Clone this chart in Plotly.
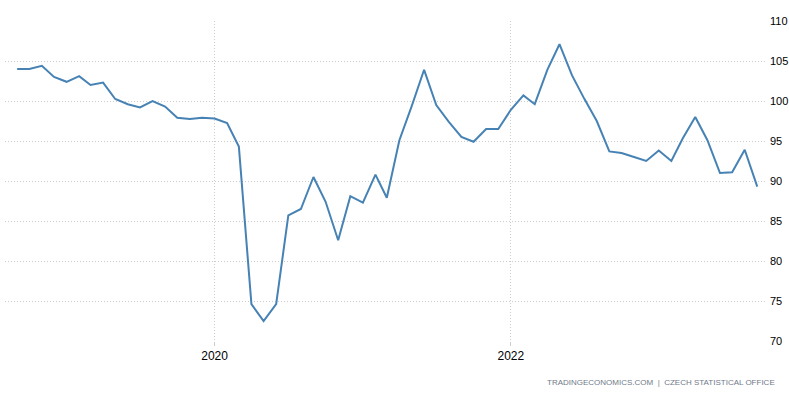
import plotly.graph_objects as go
import pandas as pd

dates = pd.date_range("2018-09-01", "2023-09-01", freq="MS")
values = [
    104.0, 104.0, 104.4, 103.0,
    102.4, 103.1, 102.0, 102.3, 100.25, 99.6, 99.2, 100.0, 99.3, 97.9, 97.75, 97.9,
    97.8, 97.25, 94.3, 74.6, 72.5, 74.6, 85.7, 86.5, 90.5, 87.4, 82.6, 88.1,
    87.3, 90.8, 87.9, 95.1, 99.3, 103.9, 99.5, 97.4, 95.5, 94.9, 96.5, 96.5,
    98.9, 100.7, 99.6, 103.9, 107.1, 103.2, 100.3, 97.5, 93.7, 93.5, 93.0, 92.5,
    93.8, 92.5, 95.3, 98.0, 95.1, 91.0, 91.1, 93.9, 89.3,
]
y_ticks = [70, 75, 80, 85, 90, 95, 100, 105, 110]
x_ticks = ["2020-01-01", "2022-01-01"]
x_tick_labels = ["2020", "2022"]
source_text = "TRADINGECONOMICS.COM  |  CZECH STATISTICAL OFFICE"

fig = go.Figure()
fig.add_trace(go.Scatter(
    x=dates, y=values, mode="lines",
    line=dict(color="#4682b4", width=2),
    hoverinfo="skip",
))

fig.update_layout(
    width=789, height=396,
    margin=dict(l=5, r=22, t=21, b=55, autoexpand=False),
    paper_bgcolor="white", plot_bgcolor="white",
    showlegend=False,
    font=dict(family="Liberation Sans, Arial, sans-serif", size=11, color="#000"),
    xaxis=dict(
        type="date", automargin=False,
        range=["2018-08-02", "2023-09-25"],
        tickvals=x_ticks, ticktext=x_tick_labels,
        showgrid=True, gridcolor="#cccccc", griddash="1px,2px", gridwidth=1,
        ticks="outside", ticklen=4, tickcolor="#cccccc",
        showline=False, zeroline=False,
        tickfont=dict(size=12, color="#000"),
    ),
    yaxis=dict(
        side="right", automargin=False,
        range=[70, 110],
        tickvals=y_ticks,
        showgrid=True, gridcolor="#cccccc", griddash="1px,2px", gridwidth=1,
        zeroline=False, showline=False,
        ticks="", ticklabelstandoff=2,
        tickfont=dict(size=11, color="#000"),
    ),
    annotations=[dict(
        text=source_text, xref="paper", yref="paper",
        x=1.013, y=-0.131, xanchor="right", yanchor="middle",
        showarrow=False,
        font=dict(size=8, color="#6f7a8a"),
    )],
)

fig.write_html(
    "out.html",
    config={"displayModeBar": False},
    post_script="document.body.style.margin='0';document.body.style.padding='0';",
)
